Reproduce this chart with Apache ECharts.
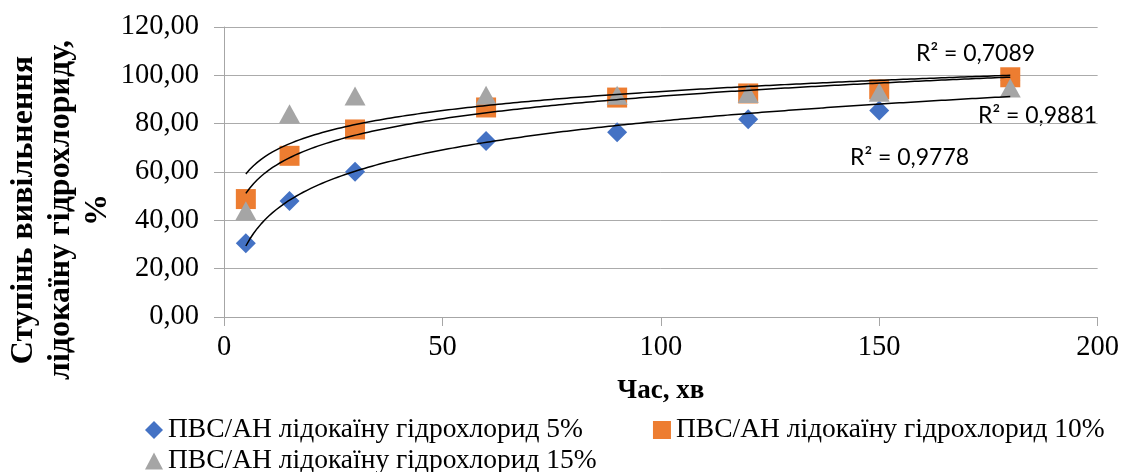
<!DOCTYPE html>
<html>
<head>
<meta charset="utf-8">
<script src="https://cdn.jsdelivr.net/npm/echarts@6/dist/echarts.min.js"></script>
<style>
html,body{margin:0;padding:0;background:#fff;}
#chart{width:1122px;height:472px;}
</style>
</head>
<body>
<div id="chart"></div>
<script>
// ---- data ----
const timeMin = [5, 15, 30, 60, 90, 120, 150, 180];
const series5 = [30.5, 48.0, 60.1, 72.8, 76.5, 81.8, 85.4, 98.0];
const series10 = [48.8, 66.7, 77.6, 86.7, 90.8, 92.5, 94.2, 99.2];
const series15 = [44.0, 84.1, 91.4, 91.8, 91.8, 92.5, 93.0, 94.8];
const seriesNames = [
  'ПВС/АН лідокаїну гідрохлорид 5%',
  'ПВС/АН лідокаїну гідрохлорид 10%',
  'ПВС/АН лідокаїну гідрохлорид 15%'
];
const r2Labels = ['R² = 0,9778', 'R² = 0,9881', 'R² = 0,7089'];
const xTicks = [0, 50, 100, 150, 200];
const yTicks = [0, 20, 40, 60, 80, 100, 120];

// logarithmic trendline (least squares on ln x), like the spreadsheet trendline
function logTrend(xs, ys) {
  const lx = xs.map(Math.log);
  const n = xs.length;
  const mx = lx.reduce((a, b) => a + b, 0) / n;
  const my = ys.reduce((a, b) => a + b, 0) / n;
  let sxy = 0, sxx = 0;
  for (let i = 0; i < n; i++) { sxy += (lx[i] - mx) * (ys[i] - my); sxx += (lx[i] - mx) ** 2; }
  const a = sxy / sxx, b = my - a * mx;
  const pts = [];
  const x0 = xs[0], x1 = xs[n - 1];
  for (let k = 0; k <= 200; k++) {
    const x = x0 + (x1 - x0) * k / 200;
    pts.push([x, a * Math.log(x) + b]);
  }
  return pts;
}
const pair = (ys) => timeMin.map((x, i) => [x, ys[i]]);

const serif = "'Liberation Serif', 'Times New Roman', serif";
const colors = ['#4472C4', '#ED7D31', '#A5A5A5'];
const symbols = ['diamond', 'rect', 'triangle'];
const dataSets = [series5, series10, series15];

const chart = echarts.init(document.getElementById('chart'), null, {renderer: 'canvas'});

const scatterSeries = dataSets.map((ys, i) => ({
  name: seriesNames[i],
  type: 'scatter',
  data: pair(ys),
  symbol: symbols[i],
  symbolSize: i === 2 ? [21, 19] : [20, 20],
  itemStyle: {color: colors[i], opacity: 1},
  z: 2 + i,
  silent: true
}));
const trendSeries = dataSets.map((ys, i) => ({
  name: 'trend' + i,
  type: 'line',
  data: logTrend(timeMin, ys),
  showSymbol: false,
  symbol: 'none',
  lineStyle: {color: '#000', width: 1.5},
  z: 10,
  silent: true,
  animation: false
}));

chart.setOption({
  animation: false,
  backgroundColor: '#fff',
  grid: {left: 224, right: 24, top: 27, bottom: 155},
  xAxis: {
    type: 'value',
    min: xTicks[0], max: xTicks[xTicks.length - 1], interval: 50,
    name: 'Час, хв',
    nameLocation: 'middle',
    nameGap: 61,
    nameTextStyle: {fontFamily: serif, fontSize: 27, fontWeight: 'bold', color: '#000'},
    axisLine: {show: true, lineStyle: {color: '#A6A6A6', width: 1}},
    axisTick: {show: true, length: 9, lineStyle: {color: '#A6A6A6'}},
    axisLabel: {fontFamily: serif, fontSize: 28.5, color: '#000', margin: 16},
    splitLine: {show: false}
  },
  yAxis: {
    type: 'value',
    min: yTicks[0], max: yTicks[yTicks.length - 1], interval: 20,
    axisLine: {show: true, lineStyle: {color: '#A6A6A6', width: 1}},
    axisTick: {show: true, length: 10, lineStyle: {color: '#A6A6A6'}},
    axisLabel: {fontFamily: serif, fontSize: 28.5, color: '#000', margin: 25,
      formatter: v => v.toFixed(2).replace('.', ',')},
    splitLine: {show: true, lineStyle: {color: '#ABABAB', width: 1}}
  },
  legend: [
    {
      data: [{name: seriesNames[0], icon: 'diamond'}, {name: seriesNames[1], icon: 'rect'}],
      left: 140, top: 411, itemGap: 70, itemWidth: 18, itemHeight: 18,
      textStyle: {fontFamily: serif, fontSize: 27.5, color: '#000'},
      selectedMode: false
    },
    {
      data: [{name: seriesNames[2], icon: 'triangle'}],
      left: 140, top: 442, itemWidth: 18, itemHeight: 17,
      textStyle: {fontFamily: serif, fontSize: 27.5, color: '#000'},
      selectedMode: false
    }
  ],
  graphic: [
    {
      type: 'text', x: 61, y: 210, rotation: Math.PI / 2,
      style: {
        text: 'Ступінь вивільнення\nлідокаїну гідрохлориду,\n%',
        font: "bold 32px 'Liberation Serif', serif", fill: '#000',
        textAlign: 'center', textVerticalAlign: 'middle', lineHeight: 37
      }
    },
    {type: 'text', x: 916, y: 54, style: {text: r2Labels[2], font: '23px Lato', fill: '#000', textVerticalAlign: 'middle'}},
    {type: 'text', x: 978, y: 116, style: {text: r2Labels[1], font: '23px Lato', fill: '#000', textVerticalAlign: 'middle'}},
    {type: 'text', x: 850, y: 158, style: {text: r2Labels[0], font: '23px Lato', fill: '#000', textVerticalAlign: 'middle'}}
  ],
  series: [...scatterSeries, ...trendSeries]
});
</script>
</body>
</html>
